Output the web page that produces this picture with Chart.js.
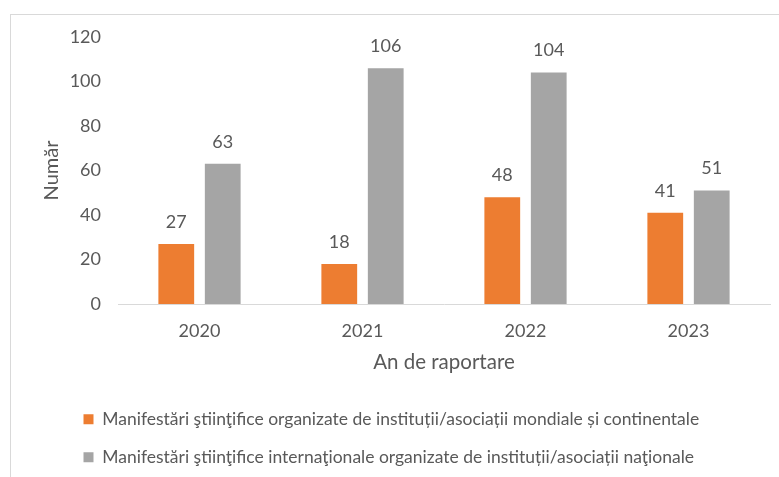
<!DOCTYPE html>
<html>
<head>
<meta charset="utf-8">
<script src="https://cdn.jsdelivr.net/npm/chart.js@4"></script>
<style>
  html, body { margin: 0; padding: 0; background: #fff; }
  #wrap { position: relative; width: 779px; height: 477px; }
  #frame { position: absolute; left: 10px; top: 14px; right: 0; bottom: 0;
           border-left: 1px solid #d9d9d9; border-top: 1px solid #d9d9d9; }
  canvas { position: absolute; left: 0; top: 0; }
</style>
</head>
<body>
<div id="wrap">
  <div id="frame"></div>
  <canvas id="myChart" width="779" height="477"></canvas>
</div>
<script>
const years = ["2020", "2021", "2022", "2023"];
const mondiale = [27, 18, 48, 41];
const nationale = [63, 106, 104, 51];
const seriesNames = [
  "Manifestări ştiinţifice organizate de instituții/asociații mondiale și continentale",
  "Manifestări ştiinţifice internaţionale organizate de instituții/asociații naţionale"
];

const textColor = "#595959";
const fontFamily = "Lato, 'Open Sans', sans-serif";

// valorile deasupra barelor
const valueLabels = {
  id: "valueLabels",
  afterDatasetsDraw(chart) {
    const ctx = chart.ctx;
    ctx.save();
    ctx.fillStyle = textColor;
    ctx.font = "18px " + fontFamily;
    ctx.textAlign = "center";
    ctx.textBaseline = "middle";
    chart.data.datasets.forEach((ds, i) => {
      chart.getDatasetMeta(i).data.forEach((bar, j) => {
        ctx.fillText(ds.data[j], bar.x, bar.y - 22);
      });
    });
    ctx.restore();
  }
};

// legenda aliniata la stanga, mutata spre dreapta ca in original
const shiftLegend = {
  id: "shiftLegend",
  afterLayout(chart) {
    chart.legend.left += 53;
    chart.legend.right += 53;
  }
};

const ctx = document.getElementById("myChart").getContext("2d");
new Chart(ctx, {
  type: "bar",
  data: {
    labels: years,
    datasets: [
      { label: seriesNames[0], data: mondiale, backgroundColor: "#ED7D31" },
      { label: seriesNames[1], data: nationale, backgroundColor: "#A5A5A5" }
    ]
  },
  options: {
    responsive: false,
    animation: false,
    layout: { padding: { left: 10, right: 9, top: 37, bottom: 1 } },
    datasets: { bar: { categoryPercentage: 0.57, barPercentage: 0.77 } },
    plugins: {
      legend: {
        position: "bottom",
        align: "start",
        labels: {
          boxWidth: 10,
          boxHeight: 10,
          padding: 20.5,
          color: textColor,
          font: { family: fontFamily, size: 17.5 }
        }
      },
      tooltip: { enabled: false }
    },
    scales: {
      x: {
        grid: { display: false, drawTicks: false },
        border: { display: true, color: "#d9d9d9" },
        ticks: { color: textColor, padding: 16, font: { family: fontFamily, size: 18 } },
        title: {
          display: true,
          text: "An de raportare",
          color: textColor,
          padding: { top: 0, bottom: 15 },
          font: { family: fontFamily, size: 20.5 }
        },
        afterFit(scale) { scale.height = 86; }
      },
      y: {
        min: 0,
        max: 120,
        grid: { display: false, drawTicks: false },
        border: { display: false },
        ticks: { stepSize: 20, color: textColor, padding: 17, font: { family: fontFamily, size: 18 } },
        title: {
          display: true,
          text: "Număr",
          color: textColor,
          padding: { top: 30, bottom: 0 },
          font: { family: fontFamily, size: 20 }
        },
        afterFit(scale) { scale.width = 108; }
      }
    }
  },
  plugins: [valueLabels, shiftLegend]
});
</script>
</body>
</html>
